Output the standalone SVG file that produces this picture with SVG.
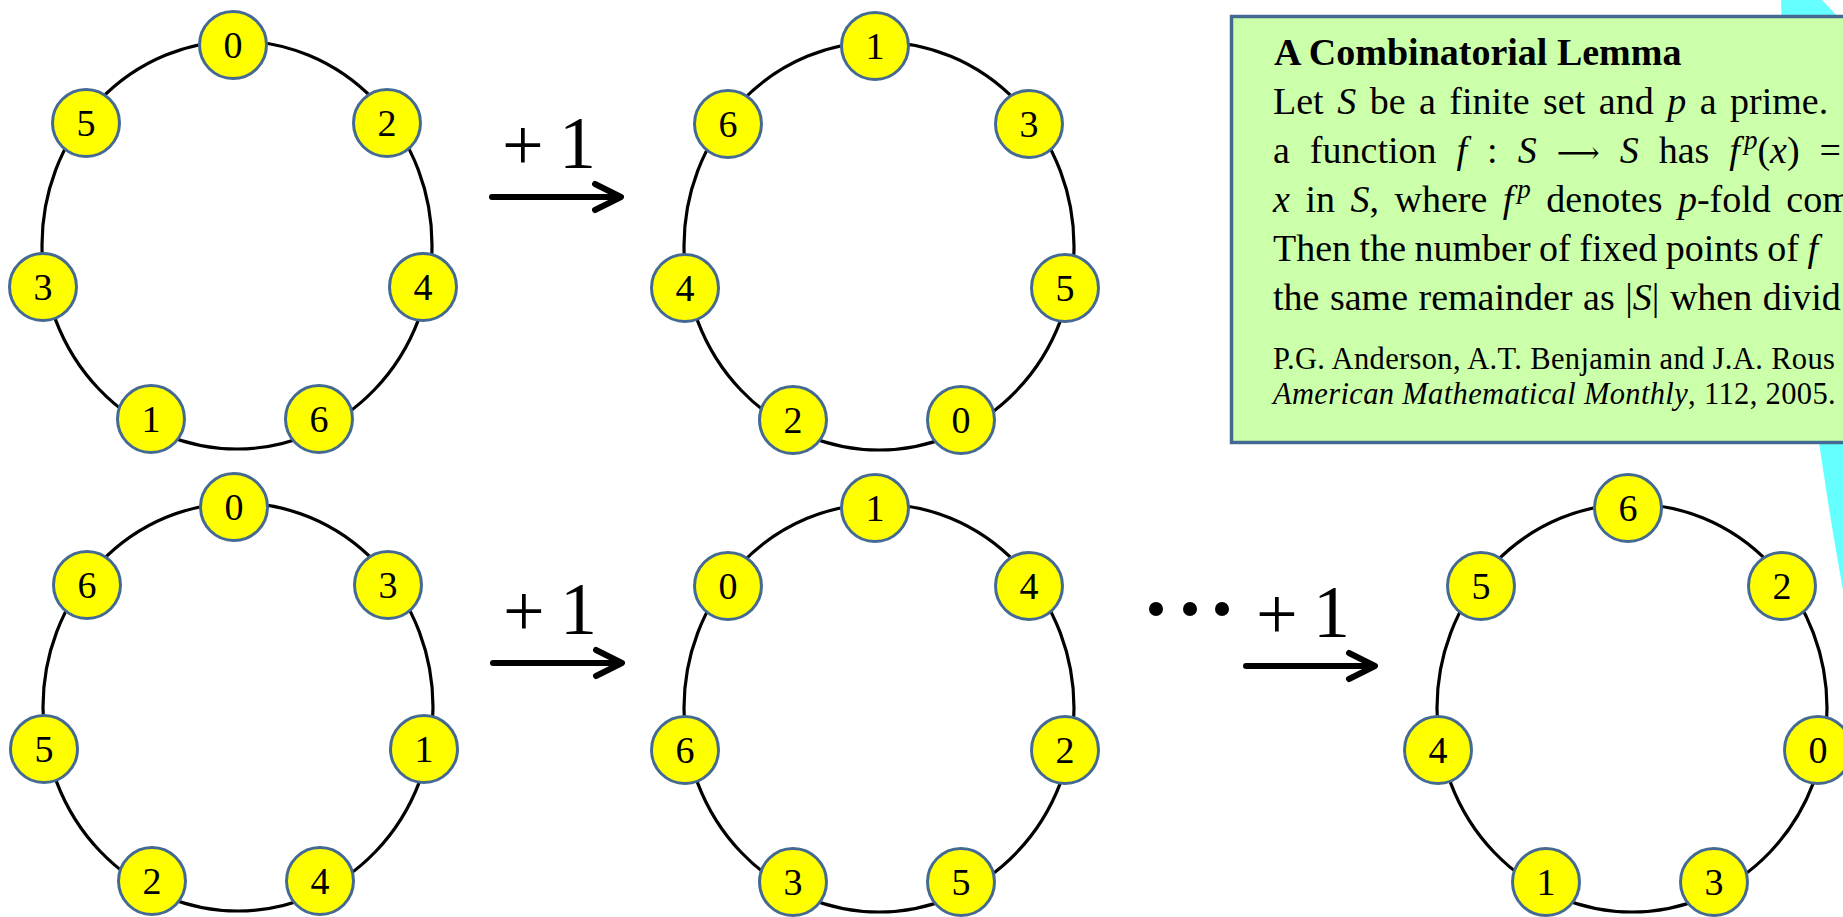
<svg xmlns="http://www.w3.org/2000/svg" width="1843" height="917" viewBox="0 0 1843 917">
<style>
.ring{fill:none;stroke:#000;stroke-width:3.2}
.node circle{fill:#FFFF00;stroke:#446A94;stroke-width:3}
.node text{font-family:"Liberation Serif","Times New Roman",serif;font-size:38px;text-anchor:middle;fill:#000}
.arr{fill:none;stroke:#000;stroke-width:6;stroke-linecap:round;stroke-linejoin:round}
.op{font-family:"Liberation Serif","Times New Roman",serif;font-size:74px;fill:#000}
.box{fill:#CCFFAA;stroke:#446A94;stroke-width:3.5}
.t{font-family:"Liberation Serif","Times New Roman",serif;font-size:38px;fill:#000}
.r{font-family:"Liberation Serif","Times New Roman",serif;font-size:30.5px;fill:#000}
.i{font-style:italic}
.h{font-weight:bold}
</style>
<rect width="1843" height="917" fill="#FFFFFF"/>
<path d="M1781,0 L1822,0 L1843,22 L1843,590 Q1790,300 1781,0 Z" fill="#66FFFF"/>
<g id="lemma-box">
<rect class="box" x="1231.5" y="16.5" width="700" height="426"/>
<text class="t h" x="1274" y="65">A Combinatorial Lemma</text>
<text class="t" x="1273" y="114" word-spacing="4">Let <tspan class="i">S</tspan> be a finite set and <tspan class="i">p</tspan> a prime.</text>
<text class="t" x="1273" y="163" word-spacing="10.5">a function <tspan class="i">f</tspan> : <tspan class="i">S</tspan> <tspan font-family="DejaVu Serif,DejaVu Sans,sans-serif" font-size="30">⟶</tspan> <tspan class="i">S</tspan> has <tspan class="i">f</tspan><tspan class="i" font-size="27" dx="4" dy="-14">p</tspan><tspan dy="14">(</tspan><tspan class="i">x</tspan>) =</text>
<text class="t" x="1273" y="212" word-spacing="6"><tspan class="i">x</tspan> in <tspan class="i">S</tspan>, where <tspan class="i">f</tspan><tspan class="i" font-size="27" dx="4" dy="-14">p</tspan><tspan dy="14"> denotes </tspan><tspan class="i">p</tspan>-fold com</text>
<text class="t" x="1273" y="261" word-spacing="-1">Then the number of fixed points of <tspan class="i">f</tspan></text>
<text class="t" x="1273" y="310" word-spacing="1">the same remainder as |<tspan class="i">S</tspan>| when divid</text>
<text class="r" x="1273" y="369" letter-spacing="0.35">P.G. Anderson, A.T. Benjamin and J.A. Rous</text>
<text class="r" x="1273" y="404" letter-spacing="0.35"><tspan class="i">American Mathematical Monthly</tspan>, 112, 2005.</text>
</g>
<g id="connectors">
<g id="arrow-top">
<path class="arr" d="M492,197 H618 M595,184 L621,197 L595,210"/>
<text class="op"><tspan x="502" y="170">+</tspan><tspan x="559" y="168">1</tspan></text>
</g>
<g id="arrow-bottom-left">
<path class="arr" d="M493,663 H619 M596,650 L622,663 L596,676"/>
<text class="op"><tspan x="503" y="636">+</tspan><tspan x="560" y="634">1</tspan></text>
</g>
<g id="arrow-bottom-right">
<circle cx="1156" cy="609" r="7" fill="#000"/>
<circle cx="1190" cy="609" r="7" fill="#000"/>
<circle cx="1222" cy="609" r="7" fill="#000"/>
<path class="arr" d="M1246,666 H1372 M1349,653 L1375,666 L1349,679"/>
<text class="op"><tspan x="1256" y="639">+</tspan><tspan x="1313" y="637">1</tspan></text>
</g>
</g>
<g id="rings">
<ellipse class="ring" cx="237" cy="245" rx="195" ry="204"/>
<ellipse class="ring" cx="879" cy="246" rx="195" ry="204"/>
<ellipse class="ring" cx="238" cy="707" rx="195" ry="204"/>
<ellipse class="ring" cx="879" cy="708" rx="195" ry="204"/>
<ellipse class="ring" cx="1632" cy="708" rx="195" ry="204"/>
</g>
<g id="tl">
<g id="tl-0" class="node"><circle cx="233" cy="45" r="33.5"/><text x="233" y="58">0</text></g>
<g id="tl-5" class="node"><circle cx="86" cy="123" r="33.5"/><text x="86" y="136">5</text></g>
<g id="tl-2" class="node"><circle cx="387" cy="123" r="33.5"/><text x="387" y="136">2</text></g>
<g id="tl-3" class="node"><circle cx="43" cy="287" r="33.5"/><text x="43" y="300">3</text></g>
<g id="tl-4" class="node"><circle cx="423" cy="287" r="33.5"/><text x="423" y="300">4</text></g>
<g id="tl-1" class="node"><circle cx="151" cy="419" r="33.5"/><text x="151" y="432">1</text></g>
<g id="tl-6" class="node"><circle cx="319" cy="419" r="33.5"/><text x="319" y="432">6</text></g>
</g>
<g id="tm">
<g id="tm-1" class="node"><circle cx="875" cy="46" r="33.5"/><text x="875" y="59">1</text></g>
<g id="tm-6" class="node"><circle cx="728" cy="124" r="33.5"/><text x="728" y="137">6</text></g>
<g id="tm-3" class="node"><circle cx="1029" cy="124" r="33.5"/><text x="1029" y="137">3</text></g>
<g id="tm-4" class="node"><circle cx="685" cy="288" r="33.5"/><text x="685" y="301">4</text></g>
<g id="tm-5" class="node"><circle cx="1065" cy="288" r="33.5"/><text x="1065" y="301">5</text></g>
<g id="tm-2" class="node"><circle cx="793" cy="420" r="33.5"/><text x="793" y="433">2</text></g>
<g id="tm-0" class="node"><circle cx="961" cy="420" r="33.5"/><text x="961" y="433">0</text></g>
</g>
<g id="bl">
<g id="bl-0" class="node"><circle cx="234" cy="507" r="33.5"/><text x="234" y="520">0</text></g>
<g id="bl-6" class="node"><circle cx="87" cy="585" r="33.5"/><text x="87" y="598">6</text></g>
<g id="bl-3" class="node"><circle cx="388" cy="585" r="33.5"/><text x="388" y="598">3</text></g>
<g id="bl-5" class="node"><circle cx="44" cy="749" r="33.5"/><text x="44" y="762">5</text></g>
<g id="bl-1" class="node"><circle cx="424" cy="749" r="33.5"/><text x="424" y="762">1</text></g>
<g id="bl-2" class="node"><circle cx="152" cy="881" r="33.5"/><text x="152" y="894">2</text></g>
<g id="bl-4" class="node"><circle cx="320" cy="881" r="33.5"/><text x="320" y="894">4</text></g>
</g>
<g id="bm">
<g id="bm-1" class="node"><circle cx="875" cy="508" r="33.5"/><text x="875" y="521">1</text></g>
<g id="bm-0" class="node"><circle cx="728" cy="586" r="33.5"/><text x="728" y="599">0</text></g>
<g id="bm-4" class="node"><circle cx="1029" cy="586" r="33.5"/><text x="1029" y="599">4</text></g>
<g id="bm-6" class="node"><circle cx="685" cy="750" r="33.5"/><text x="685" y="763">6</text></g>
<g id="bm-2" class="node"><circle cx="1065" cy="750" r="33.5"/><text x="1065" y="763">2</text></g>
<g id="bm-3" class="node"><circle cx="793" cy="882" r="33.5"/><text x="793" y="895">3</text></g>
<g id="bm-5" class="node"><circle cx="961" cy="882" r="33.5"/><text x="961" y="895">5</text></g>
</g>
<g id="br">
<g id="br-6" class="node"><circle cx="1628" cy="508" r="33.5"/><text x="1628" y="521">6</text></g>
<g id="br-5" class="node"><circle cx="1481" cy="586" r="33.5"/><text x="1481" y="599">5</text></g>
<g id="br-2" class="node"><circle cx="1782" cy="586" r="33.5"/><text x="1782" y="599">2</text></g>
<g id="br-4" class="node"><circle cx="1438" cy="750" r="33.5"/><text x="1438" y="763">4</text></g>
<g id="br-0" class="node"><circle cx="1818" cy="750" r="33.5"/><text x="1818" y="763">0</text></g>
<g id="br-1" class="node"><circle cx="1546" cy="882" r="33.5"/><text x="1546" y="895">1</text></g>
<g id="br-3" class="node"><circle cx="1714" cy="882" r="33.5"/><text x="1714" y="895">3</text></g>
</g>
</svg>
